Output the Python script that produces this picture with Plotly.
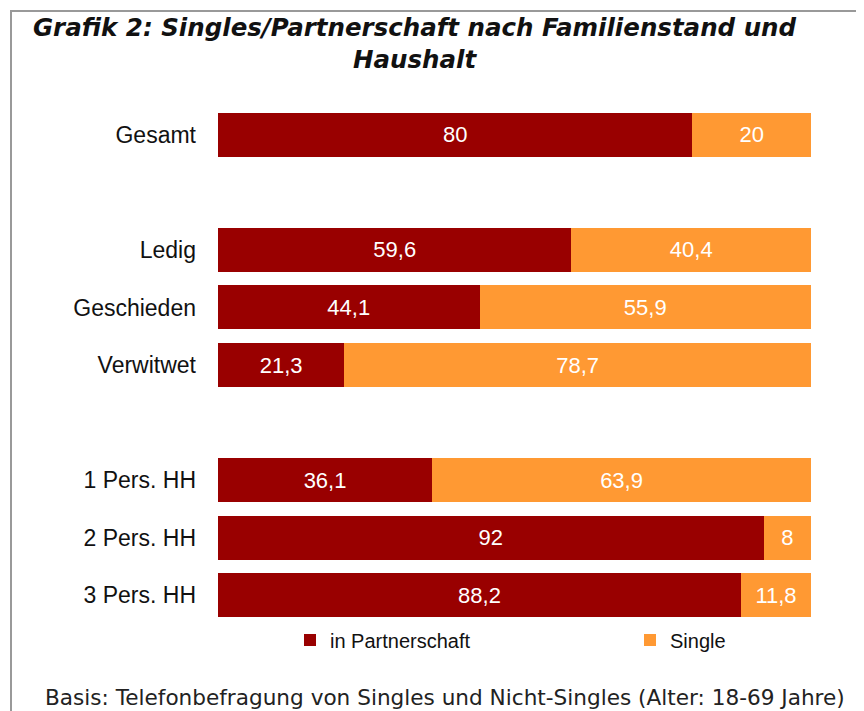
import plotly.graph_objects as go

categories = ["Gesamt", "", "Ledig", "Geschieden", "Verwitwet", " ", "1 Pers. HH", "2 Pers. HH", "3 Pers. HH"]
partner = [80, None, 59.6, 44.1, 21.3, None, 36.1, 92, 88.2]
single = [20, None, 40.4, 55.9, 78.7, None, 63.9, 8, 11.8]
series_names = ["in Partnerschaft", "Single"]
colors = ["#990000", "#FF9933"]

# page body has an 8px margin: design in screen pixels, shift by OFF
OFF = 8
W, H = 864 - OFF, 711 - OFF
L, R, T, B = 218 - OFF, 53, 106 - OFF, 87

def fmt(v):
    if v is None:
        return ""
    return ("%g" % v).replace(".", ",")

pw = W - L - R
ph = H - T - B
def px_x(px):  # screen px -> paper x
    return (px - OFF - L) / pw
def px_y(py):  # screen px -> paper y
    return (H - B - (py - OFF)) / ph

fig = go.Figure()
for i, (name, vals, col) in enumerate(zip(series_names, [partner, single], colors)):
    fig.add_trace(go.Bar(
        y=categories, x=vals, name=name, orientation="h",
        marker=dict(color=col, line=dict(width=0)),
        text=[fmt(v) for v in vals], textposition="inside",
        insidetextanchor="middle",
        textfont=dict(family="Liberation Sans, Arial", size=22, color="white"),
        hoverinfo="skip",
        legend="legend" if i == 0 else "legend2",
    ))

legend_font = dict(family="Liberation Sans, Arial", size=20, color="#111111")
fig.update_layout(
    width=W, height=H,
    barmode="stack", bargap=0.235,
    margin=dict(l=L, r=R, t=T, b=B),
    plot_bgcolor="white", paper_bgcolor="white",
    xaxis=dict(range=[0, 100], visible=False, fixedrange=True),
    yaxis=dict(type="category", categoryorder="array", categoryarray=categories,
               autorange="reversed", showgrid=False, showline=False, ticks="",
               ticklabelstandoff=21,
               tickfont=dict(family="Liberation Sans, Arial", size=23, color="#111111")),
    legend=dict(x=px_x(290), xanchor="left", y=px_y(640), yanchor="middle",
                font=legend_font, itemwidth=30, bgcolor="rgba(0,0,0,0)"),
    legend2=dict(x=px_x(630), xanchor="left", y=px_y(640), yanchor="middle",
                 font=legend_font, itemwidth=30, bgcolor="rgba(0,0,0,0)"),
    showlegend=True,
    font=dict(family="Liberation Sans, Arial"),
)

fig.add_annotation(
    text="<b><i>Grafik 2: Singles/Partnerschaft nach Familienstand und<br>Haushalt</i></b>",
    xref="paper", yref="paper", x=px_x(415), y=px_y(11),
    xanchor="center", yanchor="top", showarrow=False, align="center",
    font=dict(family="DejaVu Sans", size=24.5, color="#111111"),
)
fig.add_annotation(
    text="Basis: Telefonbefragung von Singles und Nicht-Singles (Alter: 18-69 Jahre)",
    xref="paper", yref="paper", x=px_x(43), y=px_y(697),
    xanchor="left", yanchor="middle", showarrow=False,
    font=dict(family="DejaVu Sans", size=21.6, color="#222222"),
)
# border lines (left and top)
fig.add_shape(type="line", xref="paper", yref="paper",
              x0=px_x(11), x1=px_x(11), y0=px_y(10), y1=px_y(720),
              line=dict(color="#999999", width=2))
fig.add_shape(type="line", xref="paper", yref="paper",
              x0=px_x(10), x1=px_x(900), y0=px_y(11), y1=px_y(11),
              line=dict(color="#999999", width=2))

fig.write_html("out.html")
